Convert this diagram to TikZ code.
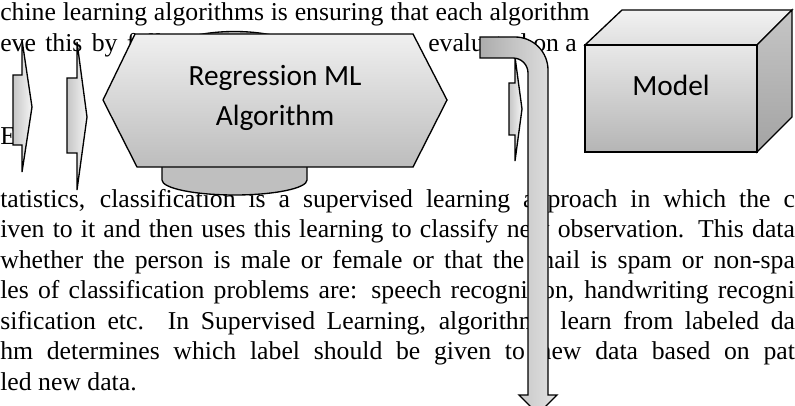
\documentclass[tikz,border=0pt]{standalone}
\usepackage{fontspec}
\setmainfont{Liberation Serif}
\newfontfamily\labelfont{Carlito}
\usetikzlibrary{positioning}
\tikzset{
  bodytext/.style = {anchor=base west, inner sep=0pt,
    font=\fontsize{19.3}{23}\selectfont},
  shapelabel/.style = {align=center, inner sep=0pt,
    font=\labelfont\fontsize{22}{30}\selectfont},
  blockarrow/.style = {draw=black, line width=1pt, left color=gray!45,
    right color=gray!8},% small arrows at the left
  hexa/.style = {draw=black, line width=1pt, top color=gray!12,
    bottom color=gray!52},
  cyl/.style = {draw=black, line width=1pt, fill=gray!50},
  bent/.style = {draw=black, line width=1pt, left color=gray!65,
    right color=gray!22},
  cubefront/.style = {draw=black, line width=1pt, top color=gray!18,
    bottom color=gray!58},
  cubetop/.style = {draw=black, line width=1pt, top color=gray!10,
    bottom color=gray!25},
  cubeside/.style = {draw=black, line width=1pt, top color=gray!45,
    bottom color=gray!72}
}
% justified line of given width (pt)
\newcommand{\jline}[2]{\makebox[#1pt][s]{#2}}

\begin{document}
\begin{tikzpicture}[x=0.75pt,y=-0.75pt]
\useasboundingbox (0,0) rectangle (795,406);
\clip (0,0) rectangle (795,406);

% text behind the figure
\node[bodytext] (l1) at (0,21) {\jline{442}{chine learning algorithms is ensuring that each algorithm}};
\node[bodytext] (l2a) at (0,51.5) {\jline{170}{eve this by following}};
\node[bodytext] (l2b) at (428,51.5) {evaluated on a};
\node[bodytext] (l3) at (0,145) {E.};
\node[bodytext] (p1) at (0,207) {\jline{596}{tatistics, classification is a supervised learning approach in which the c}};
\node[bodytext] (p2) at (0,237.5) {\jline{596}{iven to it and then uses this learning to classify new observation. This data}};
\node[bodytext] (p3) at (0,268) {\jline{596}{whether the person is male or female or that the mail is spam or non-spa}};
\node[bodytext] (p4) at (0,298.5) {\jline{596}{les of classification problems are: speech recognition, handwriting recogni}};
\node[bodytext] (p5) at (0,329) {\jline{596}{sification etc. In Supervised Learning, algorithms learn from labeled da}};
\node[bodytext] (p6) at (0,359.5) {\jline{596}{hm determines which label should be given to new data based on pat}};
\node[bodytext] (p7) at (0,390) {led new data.};

% arrows at the left
\draw[blockarrow] (13,75) -- (22,75) -- (22,40) -- (32,107) -- (22,172)
  -- (22,145) -- (13,145) -- cycle;
\draw[blockarrow] (67,78) -- (77,78) -- (77,42) -- (87,117) -- (77,190)
  -- (77,153) -- (67,153) -- cycle;

% algorithm block
\draw[cyl] (162,56.5) -- (162,180)
  arc[start angle=180, end angle=0, x radius=72.5, y radius=15]
  -- (307,56.5) arc[start angle=0, end angle=-180, x radius=72.5, y radius=25]
  -- cycle;
\draw[hexa] (103,100) -- (135,34) -- (413,34) -- (447,100) -- (413,167)
  -- (137,167) -- cycle;
\node[shapelabel] (alg) at (275,98) {Regression ML\\Algorithm};

\draw[blockarrow] (509,83) -- (515,83) -- (515,57) -- (522,109) -- (515,161)
  -- (515,135) -- (509,135) -- cycle;

% bent arrow
\draw[bent] (480,37) -- (515,37) arc[start angle=-90, end angle=0, radius=33]
  -- (548,395) -- (557,395) -- (538,414) -- (519,395) -- (528,395)
  -- (528,73) arc[start angle=0, end angle=-90, radius=15] -- (480,58) -- cycle;

% model cube
\draw[cubetop] (585,45) -- (622,10) -- (792,10) -- (757,45) -- cycle;
\draw[cubeside] (757,45) -- (792,10) -- (792,117) -- (757,152) -- cycle;
\draw[cubefront] (585,45) rectangle (757,152);
\node[shapelabel] (model) at (671,85) {Model};
\end{tikzpicture}
\end{document}
